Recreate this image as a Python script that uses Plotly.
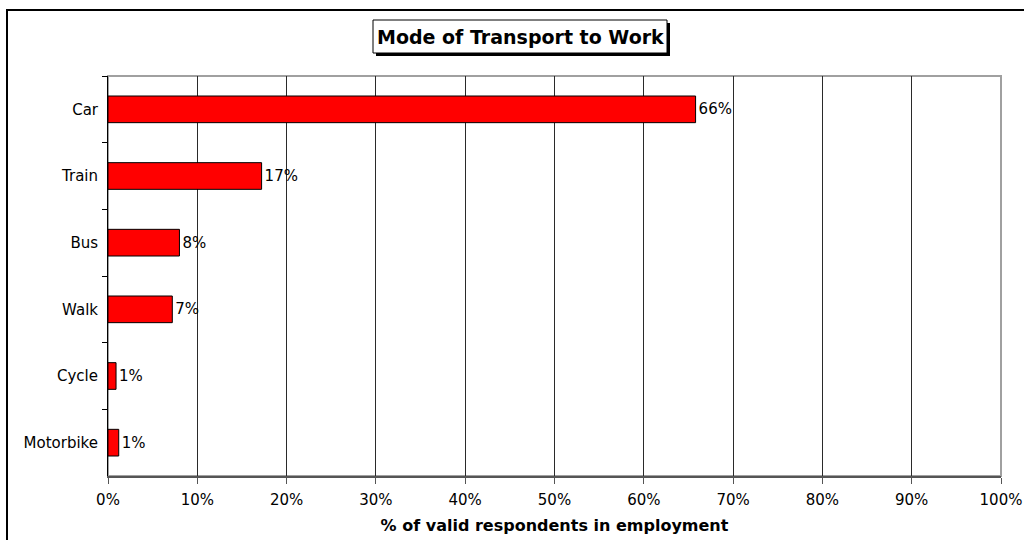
import plotly.graph_objects as go

# Share of employed respondents by main mode of transport (%)
modes = ["Car", "Train", "Bus", "Walk", "Cycle", "Motorbike"]
shares = [65.8, 17.2, 8.0, 7.2, 0.9, 1.2]
x_ticks = list(range(0, 101, 10))

W, H = 1024, 540
M_L, M_R, M_T, M_B = 108, 23, 76, 64
PW, PH = W - M_L - M_R, H - M_T - M_B


def px_x(p):
    return (p - M_L) / PW


def px_y(p):
    return (H - M_B - p) / PH


FONT = "DejaVu Sans, Liberation Sans, Arial, sans-serif"

fig = go.Figure(
    go.Bar(
        x=shares,
        y=modes,
        orientation="h",
        width=0.4,
        marker=dict(color="#ff0000", line=dict(color="#000000", width=1)),
        text=shares,
        texttemplate="%{x:.0f}%",
        textposition="outside",
        textfont=dict(family=FONT, size=15, color="#000000"),
        cliponaxis=False,
        hoverinfo="skip",
    )
)

shapes = [
    # outer chart frame
    dict(type="rect", xref="paper", yref="paper",
         x0=px_x(7), x1=px_x(1040), y0=px_y(560), y1=px_y(10),
         line=dict(color="#000000", width=2), layer="below"),
    # plot area outline
    dict(type="rect", xref="paper", yref="paper",
         x0=0, x1=1, y0=0, y1=1,
         line=dict(color="#a0a0a0", width=2), layer="below"),
    # title box shadow
    dict(type="rect", xref="paper", yref="paper",
         x0=px_x(376), x1=px_x(670), y0=px_y(56), y1=px_y(23),
         line=dict(width=0), fillcolor="#000000", layer="above"),
    # title box
    dict(type="rect", xref="paper", yref="paper",
         x0=px_x(373), x1=px_x(667), y0=px_y(53), y1=px_y(20),
         line=dict(color="#000000", width=1), fillcolor="#ffffff", layer="above"),
]

fig.update_layout(
    width=W,
    height=H,
    margin=dict(l=M_L, r=M_R, t=M_T, b=M_B, autoexpand=False),
    paper_bgcolor="#ffffff",
    plot_bgcolor="#ffffff",
    showlegend=False,
    font=dict(family=FONT, size=15, color="#000000"),
    shapes=shapes,
    annotations=[
        dict(text="<b>Mode of Transport to Work</b>", xref="paper", yref="paper",
             x=px_x(520), y=px_y(36.5), xanchor="center", yanchor="middle",
             showarrow=False, font=dict(family=FONT, size=19, color="#000000")),
    ],
    xaxis=dict(
        range=[0, 100],
        tickvals=x_ticks,
        ticktext=[f"{v}%" for v in x_ticks],
        showgrid=True,
        gridcolor="#2a2a2a",
        gridwidth=1,
        zeroline=False,
        showline=True,
        linecolor="#555555",
        linewidth=2,
        ticks="outside",
        ticklen=6,
        tickcolor="#555555",
        tickfont=dict(family=FONT, size=15, color="#000000"),
        ticklabelstandoff=3,
        automargin=False,
        title=dict(text="<b>% of valid respondents in employment</b>",
                   font=dict(family=FONT, size=16, color="#000000"), standoff=12),
        fixedrange=True,
    ),
    yaxis=dict(
        categoryorder="array",
        categoryarray=modes,
        autorange="reversed",
        showgrid=False,
        zeroline=False,
        showline=True,
        linecolor="#000000",
        linewidth=1,
        ticks="outside",
        tickson="boundaries",
        ticklen=5,
        tickcolor="#000000",
        tickfont=dict(family=FONT, size=15, color="#000000"),
        ticklabelstandoff=6,
        automargin=False,
        fixedrange=True,
    ),
    bargap=0.6,
)

fig.write_html("out.html")
